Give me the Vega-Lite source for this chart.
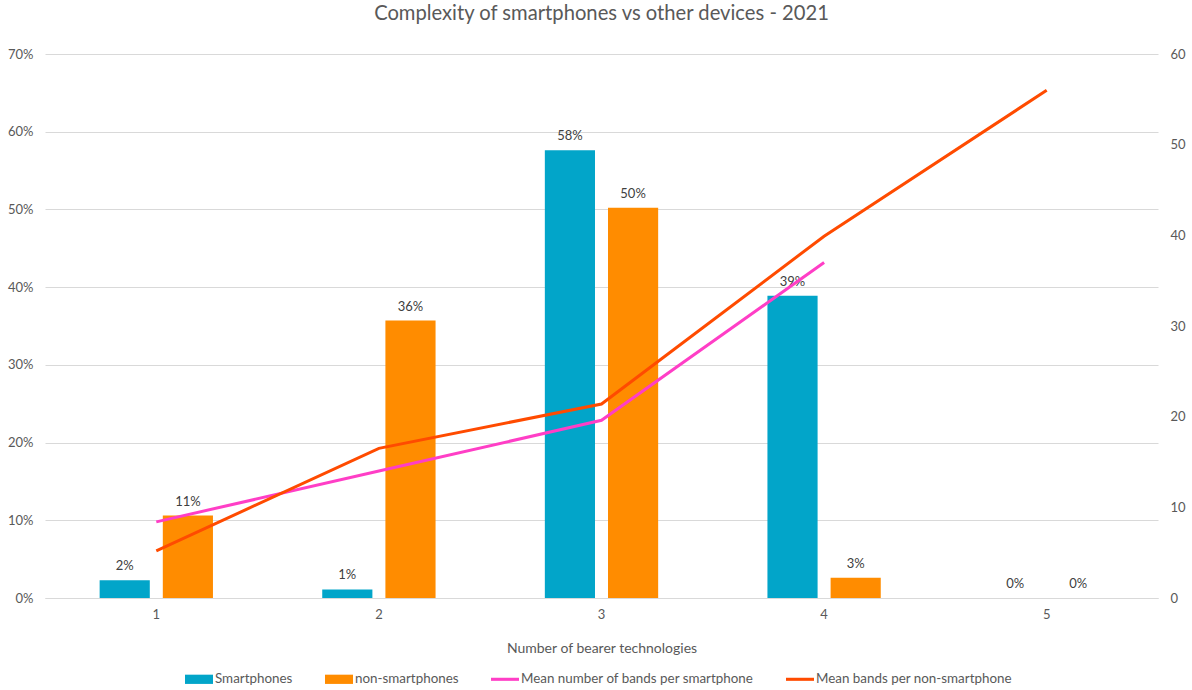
{
  "$schema": "https://vega.github.io/schema/vega-lite/v6.json",
  "autosize": "none",
  "width": 1113,
  "height": 544,
  "padding": {"left": 45, "top": 54, "right": 34, "bottom": 92},
  "background": "white",
  "config": {
    "font": "Lato",
    "view": {"stroke": null},
    "axis": {"labelColor": "#595959", "titleColor": "#595959", "labelFontSize": 13, "labelFont": "Lato", "titleFont": "Lato", "titleFontWeight": "normal", "ticks": false}
  },
  "title": {"text": "Complexity of smartphones vs other devices - 2021", "fontSize": 20.2, "fontWeight": "normal", "color": "#595959", "offset": 24, "anchor": "middle"},
  "datasets": {
    "bars": [
      {"cat": "1", "series": "Smartphones", "share": 0.023},
      {"cat": "1", "series": "non-smartphones", "share": 0.106},
      {"cat": "2", "series": "Smartphones", "share": 0.011},
      {"cat": "2", "series": "non-smartphones", "share": 0.357},
      {"cat": "3", "series": "Smartphones", "share": 0.576},
      {"cat": "3", "series": "non-smartphones", "share": 0.502},
      {"cat": "4", "series": "Smartphones", "share": 0.389},
      {"cat": "4", "series": "non-smartphones", "share": 0.026},
      {"cat": "5", "series": "Smartphones", "share": 0},
      {"cat": "5", "series": "non-smartphones", "share": 0}
    ],
    "lines": [
      {"cat": "1", "series": "Mean number of bands per smartphone", "bands": 8.4},
      {"cat": "2", "series": "Mean number of bands per smartphone", "bands": 14.0},
      {"cat": "3", "series": "Mean number of bands per smartphone", "bands": 19.6},
      {"cat": "4", "series": "Mean number of bands per smartphone", "bands": 37.0},
      {"cat": "1", "series": "Mean bands per non-smartphone", "bands": 5.2},
      {"cat": "2", "series": "Mean bands per non-smartphone", "bands": 16.5},
      {"cat": "3", "series": "Mean bands per non-smartphone", "bands": 21.4},
      {"cat": "4", "series": "Mean bands per non-smartphone", "bands": 39.9},
      {"cat": "5", "series": "Mean bands per non-smartphone", "bands": 56.0}
    ]
  },
  "encoding": {
    "x": {"field": "cat", "type": "nominal", "sort": ["1", "2", "3", "4", "5"],
      "scale": {"paddingInner": 0, "paddingOuter": 0},
      "axis": {"title": "Number of bearer technologies", "titleFontSize": 14, "titlePadding": 20, "labelAngle": 0, "labelPadding": 10, "domain": true, "domainColor": "#d9d9d9", "grid": false}}
  },
  "layer": [
    {
      "data": {"name": "bars"},
      "encoding": {
        "xOffset": {"field": "series", "type": "nominal", "scale": {"domain": ["Smartphones", "non-smartphones"], "paddingInner": 0.206, "paddingOuter": 0.865}},
        "y": {"field": "share", "type": "quantitative", "scale": {"domain": [0, 0.7]},
          "axis": {"title": null, "orient": "left", "format": ".0%", "values": [0, 0.1, 0.2, 0.3, 0.4, 0.5, 0.6, 0.7], "labelPadding": 12, "domain": false, "grid": true, "gridColor": "#d9d9d9"}}
      },
      "layer": [
        {
          "mark": {"type": "bar"},
          "encoding": {
            "color": {"field": "series", "type": "nominal",
              "scale": {"domain": ["Smartphones", "non-smartphones", "Mean number of bands per smartphone", "Mean bands per non-smartphone"], "range": ["#02a5c9", "#ff8c00", "#ff3ec6", "#ff4b00"]},
              "legend": {"title": null, "orient": "none", "legendX": 140, "legendY": 611, "direction": "horizontal", "columns": 4, "columnPadding": 32, "labelFontSize": 13.4, "labelColor": "#595959", "labelOffset": 2, "labelLimit": 0, "symbolSize": 784, "symbolStrokeWidth": 0,
                "encode": {"symbols": {"update": {
                  "shape": {"signal": "indexof(['Smartphones','non-smartphones'], datum.value) >= 0 ? 'M-1,-0.33H1V0.33H-1Z' : 'M-1,-0.11H1V0.11H-1Z'"},
                  "fill": {"scale": "color", "field": "value"},
                  "strokeWidth": {"value": 0},
                  "opacity": {"value": 1}
                }}}}
            }
          }
        },
        {
          "mark": {"type": "text", "baseline": "bottom", "dy": -7, "fontSize": 13, "color": "#404040"},
          "encoding": {
            "text": {"field": "share", "type": "quantitative", "format": ".0%"}
          }
        }
      ]
    },
    {
      "data": {"name": "lines"},
      "mark": {"type": "line", "strokeWidth": 3},
      "encoding": {
        "y": {"field": "bands", "type": "quantitative", "scale": {"domain": [0, 60]},
          "axis": {"title": null, "orient": "right", "values": [0, 10, 20, 30, 40, 50, 60], "labelPadding": 12, "domain": false, "grid": false}},
        "color": {"field": "series", "type": "nominal"}
      }
    }
  ],
  "resolve": {"scale": {"y": "independent"}}
}
